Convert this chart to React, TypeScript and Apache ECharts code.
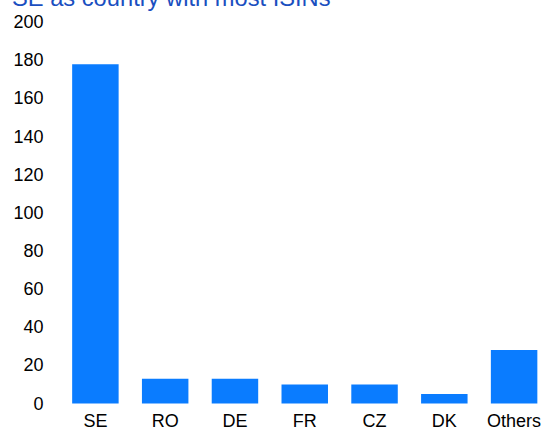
import React, { useEffect, useRef } from "react";
import * as echarts from "echarts";

const categories = ["SE", "RO", "DE", "FR", "CZ", "DK", "Others"];
const values = [178, 13, 13, 10, 10, 5, 28];
const yTicks = { min: 0, max: 200, interval: 20 };
const titleText = "SE as country with most ISINs";

const FONT = '"Liberation Sans", Arial, sans-serif';

export default function App() {
  const ref = useRef<HTMLDivElement>(null);
  useEffect(() => {
    if (!ref.current) return;
    const chart = echarts.init(ref.current, undefined, { renderer: "svg" });
    chart.setOption({
      animation: false,
      backgroundColor: "#ffffff",
      graphic: [
        {
          type: "text",
          left: 12,
          top: -14,
          style: {
            text: titleText,
            font: `23.7px ${FONT}`,
            fill: "#1a4fc0",
          },
        },
      ],
      grid: { left: 60.5, top: 22.2, width: 494, bottom: 26.5, containLabel: false },
      xAxis: {
        type: "category",
        data: categories,
        axisLine: { show: false },
        axisTick: { show: false },
        axisLabel: { color: "#000", fontSize: 18, fontFamily: FONT, margin: 8, interval: 0 },
      },
      yAxis: {
        type: "value",
        min: yTicks.min,
        max: yTicks.max,
        interval: yTicks.interval,
        axisLine: { show: false },
        axisTick: { show: false },
        splitLine: { show: false },
        axisLabel: { color: "#000", fontSize: 18, fontFamily: FONT, margin: 17 },
      },
      series: [
        {
          type: "bar",
          data: values,
          barWidth: "66.6%",
          itemStyle: { color: "#0a7cff" },
        },
      ],
    });
    return () => chart.dispose();
  }, []);
  return <div ref={ref} style={{ width: 549, height: 430, position: "absolute", left: 0, top: 0 }} />;
}
